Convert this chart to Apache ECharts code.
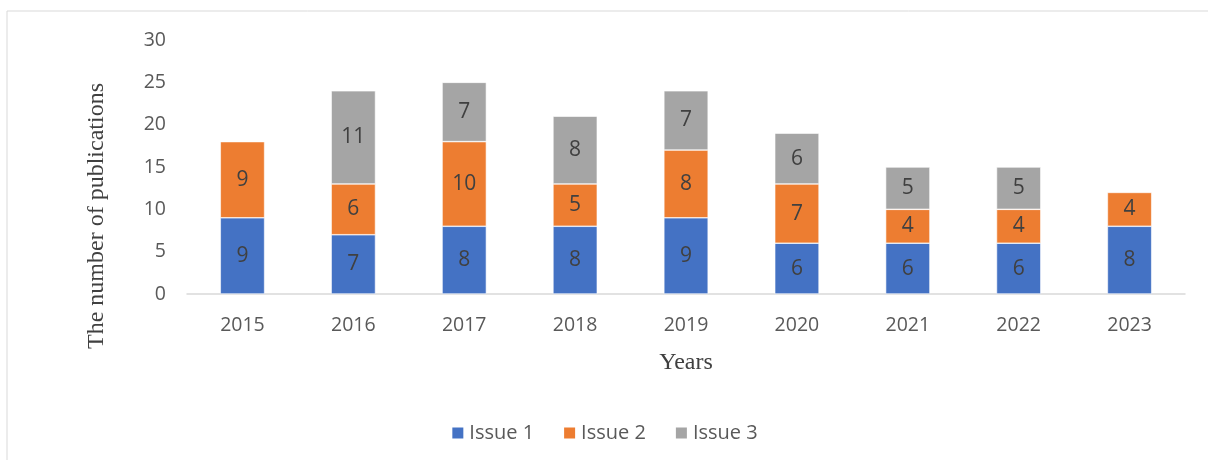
<!DOCTYPE html>
<html><head><meta charset="utf-8">
<script src="https://cdn.jsdelivr.net/npm/echarts@6/dist/echarts.min.js"></script>
<style>html,body{margin:0;padding:0;background:#fff}#c{width:1208px;height:460px}</style>
</head><body><div id="c"></div>
<script>
const years = ['2015','2016','2017','2018','2019','2020','2021','2022','2023'];
const issue1 = [9,7,8,8,9,6,6,6,8];
const issue2 = [9,6,10,5,8,7,4,4,4];
const issue3 = [null,11,7,8,7,6,5,5,null];
const seriesNames = ['Issue 1','Issue 2','Issue 3'];
const yTitle = 'The number of publications';
const xTitle = 'Years';
const colors = ['#4472C4','#ED7D31','#A5A5A5'];
const sans = '"Open Sans", "Noto Sans", sans-serif';
const serif = '"Liberation Serif", "DejaVu Serif", serif';
const chart = echarts.init(document.getElementById('c'));
const lbl = {show:true, position:'inside', color:'#404040', fontSize:21, fontFamily:sans};
const mk = (name, data, i) => ({
  name, type:'bar', stack:'s', data, barWidth:'40%',
  itemStyle:{color:colors[i], borderColor:'#ffffff', borderWidth:0.6},
  label:lbl, emphasis:{disabled:true}
});
chart.setOption({
  animation:false,
  graphic:[
    {type:'polyline', shape:{points:[[7,470],[7,11],[1220,11]]}, style:{stroke:'#d9d9d9', fill:null, lineWidth:1}, silent:true},
    {type:'text', x:97, y:216, rotation:Math.PI/2, silent:true,
      style:{text:yTitle, font:'24px "Liberation Serif", serif', fill:'#404040', align:'center', verticalAlign:'middle'}}
  ],
  grid:{left:187, right:23, top:40, bottom:166},
  legend:{bottom:12, left:'center', itemWidth:13, itemHeight:13, itemGap:28, icon:'rect',
    textStyle:{color:'#595959', fontSize:20, fontFamily:sans}, data:seriesNames},
  xAxis:{type:'category', data:years, name:xTitle, nameLocation:'middle', nameGap:57,
    nameTextStyle:{fontFamily:serif, fontSize:24, color:'#404040'},
    axisLine:{lineStyle:{color:'#d9d9d9', width:1.5}}, axisTick:{show:false},
    axisLabel:{color:'#595959', fontSize:19.5, fontFamily:sans, margin:21}},
  yAxis:{type:'value', min:0, max:30, interval:5,
    splitLine:{show:false}, axisLine:{show:false}, axisTick:{show:false},
    axisLabel:{color:'#595959', fontSize:19.5, fontFamily:sans, margin:21}},
  series:[mk(seriesNames[0], issue1, 0), mk(seriesNames[1], issue2, 1), mk(seriesNames[2], issue3, 2)]
});
</script></body></html>
